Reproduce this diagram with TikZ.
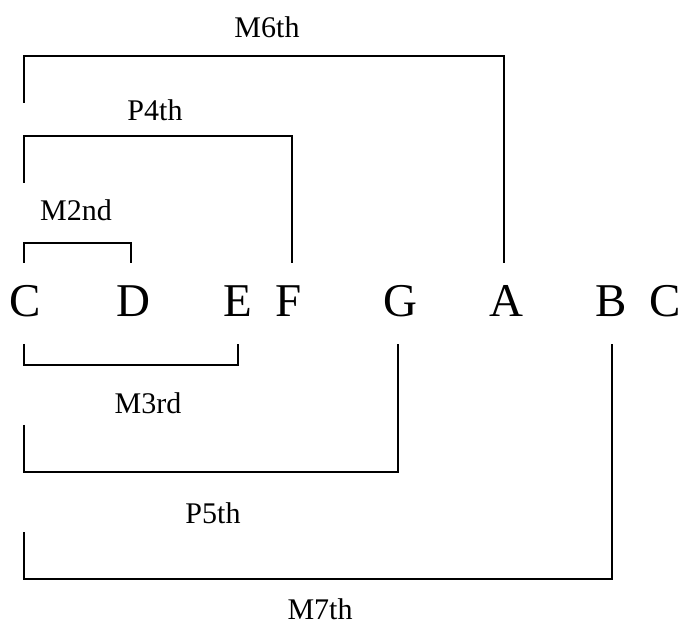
\documentclass[tikz,border=0pt]{standalone}
\usepackage{fontspec}
\setmainfont{Liberation Serif}
\begin{document}
\begin{tikzpicture}[x=1pt,y=1pt,
  note/.style={font=\fontsize{47}{47}\selectfont, anchor=base, inner sep=0pt},
  ivl/.style={font=\fontsize{30}{30}\selectfont, inner sep=0pt},
  brk/.style={line width=2.3pt, line join=miter}]
\useasboundingbox (0,0) rectangle (684,626);
% notes
\node[note] (c1) at (25,309) {C};
\node[note] (d)  at (133.5,309) {D};
\node[note] (e)  at (237.5,309) {E};
\node[note] (f)  at (289,309) {F};
\node[note] (g)  at (400,309) {G};
\node[note] (a)  at (506.5,309) {A};
\node[note] (b)  at (611,309) {B};
\node[note] (c2) at (665,309) {C};
% interval labels
\node[ivl] (m6) at (267,599) {M6th};
\node[ivl] (p4) at (155,516) {P4th};
\node[ivl] (m2) at (76,416) {M2nd};
\node[ivl] (m3) at (148,223) {M3rd};
\node[ivl] (p5) at (213,113) {P5th};
\node[ivl] (m7) at (320,17) {M7th};
% bracket end points
\coordinate (m6l) at (24,523);  \coordinate (m6r) at (504,363);
\coordinate (p4l) at (24,443);  \coordinate (p4r) at (292,363);
\coordinate (m2l) at (24,363);  \coordinate (m2r) at (131,363);
\coordinate (m3l) at (24,282);  \coordinate (m3r) at (238,282);
\coordinate (p5l) at (24,201);  \coordinate (p5r) at (398,282);
\coordinate (m7l) at (24,94);   \coordinate (m7r) at (612,282);
% upper brackets
\draw[brk] (m6l) |- (504,570) -- (m6r);
\draw[brk] (p4l) |- (292,490) -- (p4r);
\draw[brk] (m2l) |- (131,383) -- (m2r);
% lower brackets
\draw[brk] (m3l) |- (238,261) -- (m3r);
\draw[brk] (p5l) |- (398,154) -- (p5r);
\draw[brk] (m7l) |- (612,47) -- (m7r);
\end{tikzpicture}
\end{document}
